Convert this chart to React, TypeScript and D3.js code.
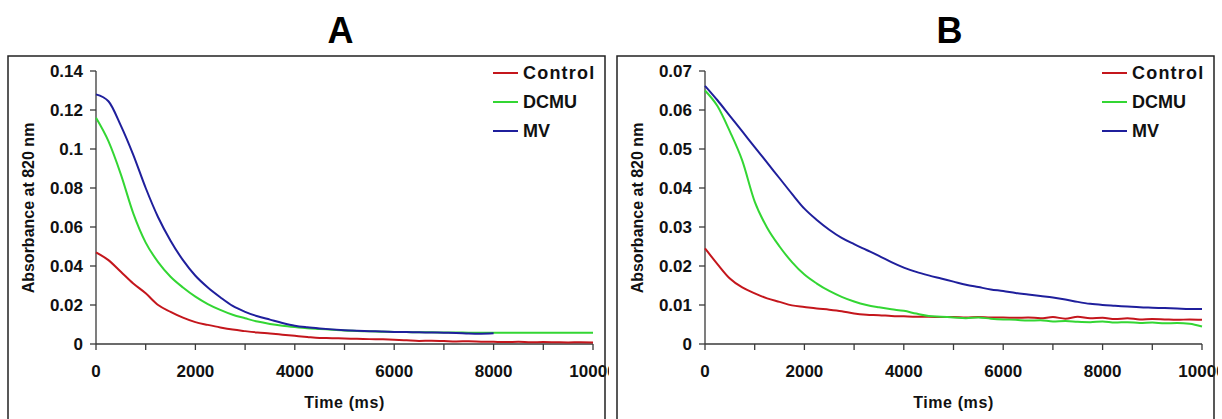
import React from "react";
import * as d3 from "d3";

// ---------- data ----------
const timeMs = [
  0, 250, 500, 750, 1000, 1250, 1500, 1750, 2000, 2250, 2500, 2750, 3000, 3250,
  3500, 3750, 4000, 4250, 4500, 4750, 5000, 5250, 5500, 5750, 6000, 6250, 6500,
  6750, 7000, 7250, 7500, 7750, 8000, 8250, 8500, 8750, 9000, 9250, 9500, 9750,
  10000,
];

const seriesNames = ["Control", "DCMU", "MV"];

// Panel A
const controlA = [
  0.047, 0.043, 0.037, 0.031, 0.026, 0.02, 0.0165, 0.0135, 0.0112, 0.0098,
  0.0085, 0.0074, 0.0066, 0.0059, 0.0054, 0.0048, 0.0042, 0.0036, 0.0031,
  0.003, 0.0028, 0.0027, 0.0025, 0.0024, 0.0022, 0.0019, 0.0016, 0.0017,
  0.0015, 0.0013, 0.0014, 0.0012, 0.0011, 0.001, 0.0011, 0.0009, 0.001, 0.0009,
  0.0008, 0.0009, 0.0008,
];
const dcmuA = [
  0.116, 0.104, 0.087, 0.067, 0.052, 0.042, 0.0345, 0.029, 0.0243, 0.0205,
  0.0175, 0.015, 0.0132, 0.0115, 0.0103, 0.0094, 0.0087, 0.0081, 0.0077,
  0.0073, 0.0069, 0.0067, 0.0065, 0.0063, 0.0062, 0.0061, 0.006, 0.006, 0.0059,
  0.0059, 0.0058, 0.0058, 0.0058, 0.0058, 0.0058, 0.0058, 0.0058, 0.0058,
  0.0058, 0.0058, 0.0058,
];
const mvA = [
  0.128, 0.1245, 0.112, 0.097, 0.08, 0.065, 0.053, 0.043, 0.035, 0.029, 0.024,
  0.0195, 0.0165, 0.0142, 0.0125, 0.0108, 0.0094, 0.0086, 0.008, 0.0075,
  0.0071, 0.0068, 0.0066, 0.0064, 0.0062, 0.0061, 0.006, 0.0059, 0.0058,
  0.0057, 0.0054, 0.0053, 0.0055,
];

// Panel B
const controlB = [
  0.0245, 0.0205, 0.0168, 0.0145, 0.013, 0.0117, 0.0108, 0.0099, 0.0095,
  0.0091, 0.0088, 0.0084, 0.0078, 0.0075, 0.0074, 0.0072, 0.0071, 0.007, 0.007,
  0.0069, 0.0069, 0.0068, 0.0069, 0.0068, 0.0068, 0.0067, 0.0068, 0.0066,
  0.0069, 0.0065, 0.007, 0.0066, 0.0067, 0.0064, 0.0066, 0.0063, 0.0064,
  0.0063, 0.0062, 0.0063, 0.0062,
];
const dcmuB = [
  0.065, 0.061, 0.0545, 0.047, 0.0365, 0.0298, 0.025, 0.021, 0.0178, 0.0155,
  0.0136, 0.0121, 0.0109, 0.01, 0.0094, 0.0089, 0.0085, 0.0078, 0.0072, 0.007,
  0.0068, 0.0066, 0.0068, 0.0065, 0.0063, 0.0062, 0.006, 0.0061, 0.0058,
  0.0059, 0.0057, 0.0056, 0.0058, 0.0055, 0.0056, 0.0054, 0.0055, 0.0053,
  0.0054, 0.0052, 0.0045,
];
const mvB = [
  0.0662, 0.0625, 0.0585, 0.0545, 0.0505, 0.0465, 0.0425, 0.0385, 0.0347,
  0.0318, 0.0293, 0.0272, 0.0256, 0.0241, 0.0226, 0.021, 0.0196, 0.0185,
  0.0176, 0.0168, 0.016, 0.0152, 0.0146, 0.014, 0.0136, 0.0131, 0.0127,
  0.0123, 0.0119, 0.0114, 0.0108, 0.0103, 0.01, 0.0098, 0.0096, 0.0094, 0.0093,
  0.0092, 0.0091, 0.009, 0.009,
];

const xTicks = [0, 1000, 2000, 3000, 4000, 5000, 6000, 7000, 8000, 9000, 10000];
const xTickLabels = ["0", "", "2000", "", "4000", "", "6000", "", "8000", "", "10000"];
const yTicksA = [0, 0.02, 0.04, 0.06, 0.08, 0.1, 0.12, 0.14];
const yTickLabelsA = ["0", "0.02", "0.04", "0.06", "0.08", "0.1", "0.12", "0.14"];
const yTicksB = [0, 0.01, 0.02, 0.03, 0.04, 0.05, 0.06, 0.07];
const yTickLabelsB = ["0", "0.01", "0.02", "0.03", "0.04", "0.05", "0.06", "0.07"];

const colors = ["#c4161c", "#33d633", "#1f1f9c"];
const FONT = "'Liberation Sans', Arial, sans-serif";

type PanelProps = {
  id: string;
  title: string;
  frameX: number;
  plotX: number;
  yMax: number;
  yTicks: number[];
  yTickLabels: string[];
  series: number[][];
};

function Panel({ id, title, frameX, plotX, yMax, yTicks, yTickLabels, series }: PanelProps) {
  const frameW = 597;
  const frameTop = 56;
  const plotW = 497;
  const plotTop = 71;
  const plotBottom = 344;
  const x = d3.scaleLinear().domain([0, 10000]).range([plotX, plotX + plotW]);
  const y = d3.scaleLinear().domain([0, yMax]).range([plotBottom, plotTop]);
  const line = d3
    .line<number>()
    .x((_, i) => x(timeMs[i]))
    .y((d) => y(d))
    .curve(d3.curveMonotoneX);
  const cx = plotX + plotW / 2;
  const legendX = frameX + 485;
  const axisColor = "#3a3a3a";

  return (
    <g>
      <defs>
        <clipPath id={`clip-${id}`}>
          <rect x={frameX} y={frameTop} width={frameW + 4} height={419 - frameTop} />
        </clipPath>
      </defs>
      <text
        x={cx - 4}
        y={43}
        textAnchor="middle"
        fontFamily={FONT}
        fontWeight="bold"
        fontSize={36}
      >
        {title}
      </text>
      <g clipPath={`url(#clip-${id})`}>
        {/* y axis */}
        <line x1={plotX} x2={plotX} y1={plotTop} y2={plotBottom} stroke={axisColor} strokeWidth={1.3} />
        {yTicks.map((t, i) => (
          <g key={`y${i}`}>
            <line x1={plotX - 6} x2={plotX} y1={y(t)} y2={y(t)} stroke={axisColor} strokeWidth={1.3} />
            <text
              x={plotX - 13}
              y={y(t)}
              dy="0.36em"
              textAnchor="end"
              fontFamily={FONT}
              fontWeight="bold"
              fontSize={17}
              fill="#111"
            >
              {yTickLabels[i]}
            </text>
          </g>
        ))}
        {/* x axis */}
        <line x1={plotX} x2={plotX + plotW} y1={plotBottom} y2={plotBottom} stroke={axisColor} strokeWidth={1.3} />
        {xTicks.map((t, i) => (
          <g key={`x${i}`}>
            <line x1={x(t)} x2={x(t)} y1={plotBottom} y2={plotBottom + 6} stroke={axisColor} strokeWidth={1.3} />
            {xTickLabels[i] && (
              <text
                x={x(t)}
                y={plotBottom + 33}
                textAnchor="middle"
                fontFamily={FONT}
                fontWeight="bold"
                fontSize={17}
                fill="#111"
              >
                {xTickLabels[i]}
              </text>
            )}
          </g>
        ))}
        {/* series */}
        {series.map((vals, si) => (
          <path key={si} d={line(vals) || ""} fill="none" stroke={colors[si]} strokeWidth={2} strokeLinejoin="round" />
        ))}
        {/* axis titles */}
        <text
          x={cx}
          y={408}
          textAnchor="middle"
          fontFamily={FONT}
          fontWeight="bold"
          fontSize={16}
          letterSpacing={0.6}
          fill="#111"
        >
          Time (ms)
        </text>
        <text
          transform={`translate(${frameX + 20},208) rotate(-90)`}
          textAnchor="middle"
          dy="0.35em"
          fontFamily={FONT}
          fontWeight="bold"
          fontSize={16}
          fill="#111"
        >
          Absorbance at 820 nm
        </text>
        {/* legend */}
        {seriesNames.map((name, i) => (
          <g key={name}>
            <line
              x1={legendX}
              x2={legendX + 25}
              y1={73 + i * 29}
              y2={73 + i * 29}
              stroke={colors[i]}
              strokeWidth={2}
            />
            <text
              x={legendX + 30}
              y={73 + i * 29}
              dy="0.36em"
              fontFamily={FONT}
              fontWeight="bold"
              fontSize={18}
              letterSpacing={name === "Control" ? 1.2 : 0}
              fill="#111"
            >
              {name}
            </text>
          </g>
        ))}
      </g>
      {/* frame */}
      <path
        d={`M${frameX},430 V${frameTop} H${frameX + frameW} V430`}
        fill="none"
        stroke="#222"
        strokeWidth={1.5}
      />
    </g>
  );
}

export default function App() {
  return (
    <svg
      width={1222}
      height={419}
      style={{ position: "absolute", left: 0, top: 0, background: "#fff" }}
    >
      <rect width={1222} height={419} fill="#fff" />
      <Panel
        id="A"
        title="A"
        frameX={8}
        plotX={96}
        yMax={0.14}
        yTicks={yTicksA}
        yTickLabels={yTickLabelsA}
        series={[controlA, dcmuA, mvA]}
      />
      <Panel
        id="B"
        title="B"
        frameX={617}
        plotX={705}
        yMax={0.07}
        yTicks={yTicksB}
        yTickLabels={yTickLabelsB}
        series={[controlB, dcmuB, mvB]}
      />
    </svg>
  );
}
